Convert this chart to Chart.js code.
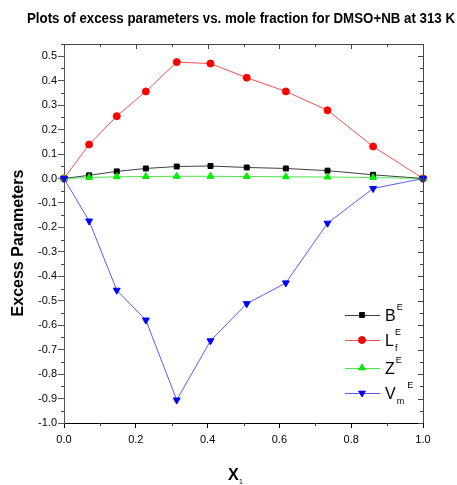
<!DOCTYPE html>
<html>
<head>
<meta charset="utf-8">
<script src="https://cdn.jsdelivr.net/npm/chart.js@4"></script>
<style>
  html, body { margin: 0; padding: 0; background: #fff; }
  #wrap { width: 457px; height: 485px; }
</style>
</head>
<body>
<div id="wrap"><canvas id="chart" width="457" height="485"></canvas></div>
<script>
// mole fraction x1 and excess parameters
const moleFraction = [0, 0.070, 0.147, 0.228, 0.314, 0.408, 0.509, 0.618, 0.734, 0.861, 1.0];
const bE  = [0, 0.013, 0.029, 0.041, 0.049, 0.051, 0.045, 0.041, 0.032, 0.015, 0];
const lfE = [0, 0.139, 0.255, 0.356, 0.476, 0.470, 0.412, 0.356, 0.279, 0.131, 0];
const zE  = [0, 0.004, 0.007, 0.008, 0.009, 0.009, 0.008, 0.007, 0.006, 0.004, 0];
const vmE = [0, -0.174, -0.457, -0.579, -0.906, -0.664, -0.512, -0.427, -0.183, -0.041, 0];
const yTicks = [-1.0, -0.9, -0.8, -0.7, -0.6, -0.5, -0.4, -0.3, -0.2, -0.1, 0.0, 0.1, 0.2, 0.3, 0.4, 0.5];
const xTicks = [0, 0.2, 0.4, 0.6, 0.8, 1.0];

const FONT = '"Liberation Sans", Arial, sans-serif';

function pts(ys) {
  return moleFraction.map((x, i) => ({ x: x, y: ys[i] }));
}

function series(label, ys, color, lineColor, style, radius, rotation, order) {
  return {
    label: label,
    data: pts(ys),
    showLine: true,
    borderColor: lineColor,
    backgroundColor: color,
    borderWidth: 1,
    pointStyle: style,
    pointRadius: radius,
    pointRotation: rotation,
    pointBorderWidth: 1,
    pointBorderColor: color,
    order: order,
    clip: 10
  };
}

const datasets = [
  series('B', bE, '#000000', 'rgba(0,0,0,0.75)', 'rect', 3.5, 0, 3),
  series('Lf', lfE, '#ff0000', 'rgba(255,0,0,0.7)', 'circle', 3.5, 0, 2),
  series('Z', zE, '#00ee00', 'rgba(0,220,0,0.7)', 'triangle', 4, 0, 1),
  series('Vm', vmE, '#0000ff', 'rgba(0,0,255,0.65)', 'triangle', 4, 180, 0)
];

// frame, minor ticks, titles and legend
const extras = {
  id: 'extras',
  afterDraw(chart) {
    const ctx = chart.ctx;
    const xs = chart.scales.x, ys = chart.scales.y;
    const a = chart.chartArea;
    ctx.save();

    // top and right frame
    ctx.strokeStyle = '#444';
    ctx.lineWidth = 1;
    ctx.beginPath();
    ctx.moveTo(a.left, a.top + 0.5);
    ctx.lineTo(a.right + 0.5, a.top + 0.5);
    ctx.lineTo(a.right + 0.5, a.bottom);
    ctx.stroke();

    ctx.beginPath();
    // y minor ticks (left, outward) and right ticks (inward)
    for (let i = 0; i <= 31; i++) {
      const v = -1 + i * 0.05;
      const py = Math.round(ys.getPixelForValue(v)) + 0.5;
      const major = i % 2 === 0;
      if (!major) {
        ctx.moveTo(a.left - 3, py);
        ctx.lineTo(a.left, py);
      }
      if (v < 0.54) {
        ctx.moveTo(a.right, py);
        ctx.lineTo(a.right - (major ? 5 : 3), py);
      }
    }
    // x minor ticks (bottom) and top ticks
    for (let i = 0; i <= 10; i++) {
      const v = i * 0.1;
      const px = Math.round(xs.getPixelForValue(v)) + 0.5;
      const major = i % 2 === 0;
      if (!major) {
        ctx.moveTo(px, a.bottom);
        ctx.lineTo(px, a.bottom + 3);
      }
      ctx.moveTo(px, a.top);
      ctx.lineTo(px, a.top + (major ? 5 : 3));
    }
    ctx.stroke();

    ctx.fillStyle = '#000';
    // chart title, squeezed like the original
    const title = 'Plots of excess parameters vs. mole fraction for DMSO+NB at 313 K';
    ctx.font = 'bold 14px ' + FONT;
    const tw = ctx.measureText(title).width;
    const target = 428;
    ctx.save();
    ctx.translate(241, 19);
    ctx.scale(target / tw, 1);
    ctx.textAlign = 'center';
    ctx.textBaseline = 'middle';
    ctx.fillText(title, 0, 0);
    ctx.restore();

    // y axis title
    ctx.save();
    ctx.translate(19, 243);
    ctx.rotate(-Math.PI / 2);
    ctx.font = 'bold 16px ' + FONT;
    ctx.textAlign = 'center';
    ctx.textBaseline = 'middle';
    ctx.fillText('Excess Parameters', 0, 0);
    ctx.restore();

    // x axis title X1
    ctx.font = 'bold 16px ' + FONT;
    ctx.textAlign = 'left';
    ctx.textBaseline = 'alphabetic';
    ctx.fillText('X', 228, 480);
    ctx.font = '7px ' + FONT;
    ctx.fillText('1', 239, 484);

    // legend
    const rows = [
      { ds: 0, y: 315, main: 'B', sub: '', sup: 'E', supAfterSub: false },
      { ds: 1, y: 340, main: 'L', sub: 'f', sup: 'E', supAfterSub: false },
      { ds: 2, y: 368, main: 'Z', sub: '', sup: 'E', supAfterSub: false },
      { ds: 3, y: 393, main: 'V', sub: 'm', sup: 'E', supAfterSub: true }
    ];
    rows.forEach(r => {
      const d = chart.data.datasets[r.ds];
      ctx.strokeStyle = d.borderColor;
      ctx.beginPath();
      ctx.moveTo(345, r.y + 0.5);
      ctx.lineTo(380, r.y + 0.5);
      ctx.stroke();
      Chart.helpers.drawPoint(ctx, {
        pointStyle: d.pointStyle, radius: d.pointRadius, rotation: d.pointRotation, borderWidth: 1
      }, 362, r.y);
      ctx.fillStyle = d.backgroundColor;
      ctx.fill();
      ctx.fillStyle = '#000';
      ctx.font = '16px ' + FONT;
      ctx.textBaseline = 'alphabetic';
      ctx.fillText(r.main, 385, r.y + 6);
      const mw = ctx.measureText(r.main).width;
      ctx.font = '9px ' + FONT;
      let supX = 385 + mw + 1;
      if (r.sub) {
        ctx.fillText(r.sub, 385 + mw + 1, r.y + 11);
        if (r.supAfterSub) supX += ctx.measureText(r.sub).width + 3;
      }
      ctx.fillText(r.sup, supX, r.y - 5);
    });
    ctx.restore();
  }
};

new Chart(document.getElementById('chart'), {
  type: 'scatter',
  data: { datasets: datasets },
  options: {
    responsive: false,
    animation: false,
    layout: { padding: { top: 44, right: 34, left: 0, bottom: 0 } },
    plugins: { legend: { display: false }, title: { display: false }, tooltip: { enabled: false } },
    scales: {
      x: {
        type: 'linear',
        min: 0,
        max: 1,
        afterBuildTicks: s => { s.ticks = xTicks.map(v => ({ value: v })); },
        afterFit: s => { s.height = 62; },
        border: { color: '#000', width: 1 },
        grid: { drawOnChartArea: false, drawTicks: true, tickLength: 5, color: '#000' },
        ticks: {
          font: { family: FONT, size: 11 },
          color: '#000',
          padding: 5,
          maxRotation: 0,
          callback: v => v.toFixed(1)
        }
      },
      y: {
        type: 'linear',
        min: -1.0,
        max: 0.55,
        afterBuildTicks: s => { s.ticks = yTicks.map(v => ({ value: v })); },
        afterFit: s => { s.width = 64; },
        border: { color: '#555', width: 1 },
        grid: { drawOnChartArea: false, drawTicks: true, tickLength: 6, color: '#555' },
        ticks: {
          font: { family: FONT, size: 11 },
          color: '#000',
          padding: 1,
          callback: v => v.toFixed(1)
        }
      }
    }
  },
  plugins: [extras]
});
</script>
</body>
</html>
